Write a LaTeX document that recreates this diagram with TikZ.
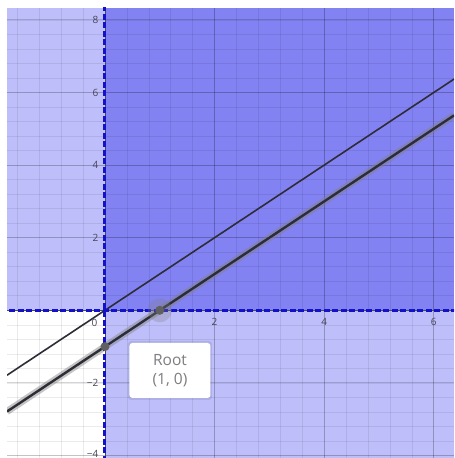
\documentclass[tikz,border=0pt]{standalone}
\usepackage{fontspec}
\setmainfont{Open Sans}
\definecolor{lightfill}{RGB}{190,190,251}
\definecolor{darkfill}{RGB}{130,130,242}
\definecolor{bound}{RGB}{18,18,200}
\definecolor{curve}{RGB}{45,45,55}
\definecolor{ticktxt}{RGB}{70,70,85}
\definecolor{roottxt}{RGB}{125,125,130}
\begin{document}
\begin{tikzpicture}[x=54.8pt,y=36.3pt,
  minorgrid/.style={black,opacity=0.08,line width=0.6pt},
  majorgrid/.style={black,opacity=0.17,line width=0.8pt},
  boundary/.style={bound,line width=3pt,dash pattern=on 6pt off 2.5pt},
  curveline/.style={curve,line width=1.6pt},
  ticklbl/.style={text=ticktxt,font=\fontsize{10}{12}\selectfont,inner sep=1pt},
  dot/.style={circle,fill=gray!75!black,inner sep=0pt,minimum size=9pt}]
\useasboundingbox (-1.916,-4.069) rectangle (6.369,8.548);
\fill[white] (-1.916,-4.069) rectangle (6.369,8.548);
\begin{scope}
\clip (-1.788,-4.069) rectangle (6.369,8.328);
% shading
\fill[lightfill] (-1.788,0) rectangle (0,8.328);
\fill[lightfill] (0,-4.069) rectangle (6.369,0);
\fill[darkfill] (0,0) rectangle (6.369,8.328);
% grid
\foreach \i in {-4,...,16} \draw[minorgrid] (\i*0.4,-4.069) -- (\i*0.4,8.328);
\foreach \j in {-10,...,21} \draw[minorgrid] (-1.788,\j*0.4) -- (6.369,\j*0.4);
\foreach \i in {-2,2,4,6} \draw[majorgrid] (\i,-4.069) -- (\i,8.328);
\foreach \j in {-4,-2,2,4,6,8} \draw[majorgrid] (-1.788,\j) -- (6.369,\j);
\draw[black!70,line width=0.8pt] (0,-4.069) -- (0,8.328);
\draw[black!70,line width=0.8pt] (-1.788,0) -- (6.369,0);
% lines
\coordinate (a1) at (-1.788,-1.788);
\coordinate (a2) at (6.369,6.369);
\coordinate (b1) at (-1.788,-2.788);
\coordinate (b2) at (6.369,5.369);
\draw[curveline] (a1) -- (a2);
\draw[gray,opacity=0.45,line width=7pt] (b1) -- (b2);
\draw[curve,line width=2.4pt] (b1) -- (b2);
% boundaries
\draw[boundary] (0,8.4) -- (0,-4.2);
\draw[boundary] (-1.9,0) -- (6.5,0);
\end{scope}
% points
\fill[gray,opacity=0.3] (1,0) circle (12pt);
\node[dot] (root) at (1,0) {};
\node[dot] (yint) at (0,-1) {};
% tick labels
\node[ticklbl,anchor=east] (y8) at (-0.1,8) {8};
\node[ticklbl,anchor=east] (y6) at (-0.1,6) {6};
\node[ticklbl,anchor=east] (y4) at (-0.1,4) {4};
\node[ticklbl,anchor=east] (y2) at (-0.1,2) {2};
\node[ticklbl,anchor=east] (ym2) at (-0.1,-2) {−2};
\node[ticklbl,anchor=east] (ym4) at (-0.1,-3.95) {−4};
\node[ticklbl,anchor=north east] (x0) at (-0.12,-0.2) {0};
\node[ticklbl,anchor=north] (x2) at (2,-0.2) {2};
\node[ticklbl,anchor=north] (x4) at (4,-0.2) {4};
\node[ticklbl,anchor=north] (x6) at (6,-0.2) {6};
% root label
\fill[black,opacity=0.08,rounded corners=3pt] (1.186,-1.658) ++(-42pt,-29.5pt) rectangle ++(84pt,59pt);
\node[fill=white,rounded corners=3pt,minimum width=81pt,minimum height=55pt,
  text=roottxt,font=\fontsize{15.5}{19}\selectfont,align=center] (lbl) at (1.186,-1.658) {Root\\(1, 0)};
\end{tikzpicture}
\end{document}
